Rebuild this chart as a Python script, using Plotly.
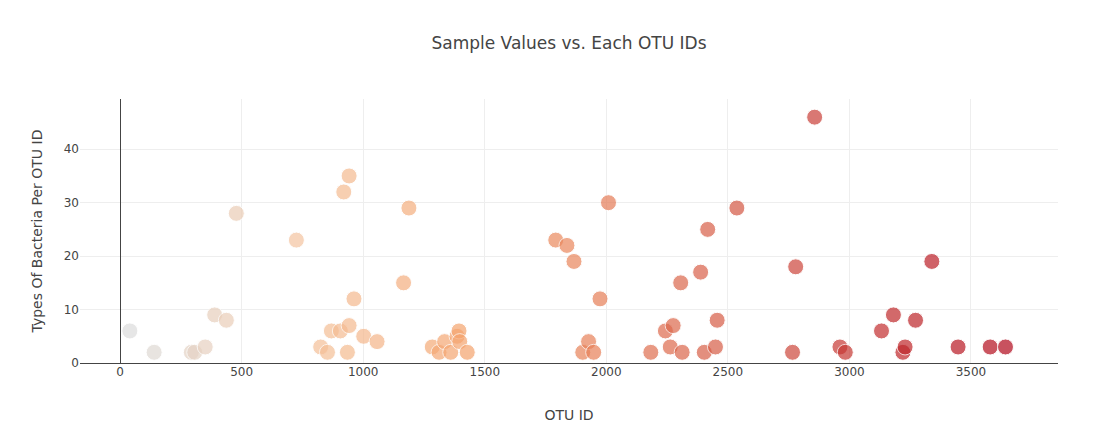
import plotly.graph_objects as go

# OTU IDs (x) and sample values (y)
otu_ids = [40, 140, 293, 307, 350, 389, 437, 478, 725, 825, 853, 869, 906, 920, 935,
           942, 942, 962, 1002, 1057, 1166, 1188, 1284, 1312, 1335, 1360, 1386, 1394,
           1397, 1428, 1792, 1838, 1867, 1903, 1927, 1948, 1974, 2009, 2183, 2243,
           2263, 2275, 2306, 2312, 2388, 2403, 2417, 2449, 2456, 2537, 2766, 2779,
           2857, 2961, 2983, 3132, 3181, 3220, 3229, 3272, 3339, 3447, 3579, 3642]
sample_values = [6, 2, 2, 2, 3, 9, 8, 28, 23, 3, 2, 6, 6, 32, 2,
                 35, 7, 12, 5, 4, 15, 29, 3, 2, 4, 2, 5, 6,
                 4, 2, 23, 22, 19, 2, 4, 2, 12, 30, 2, 6,
                 3, 7, 15, 2, 17, 2, 25, 3, 8, 29, 2, 18,
                 46, 3, 2, 6, 9, 2, 3, 8, 19, 3, 3, 3]

title_text = "Sample Values vs. Each OTU IDs"
x_title = "OTU ID"
y_title = "Types Of Bacteria Per OTU ID"

# plotly.js built-in "Reds" colorscale
reds = [[0, "rgb(220,220,220)"], [0.2, "rgb(245,195,157)"],
        [0.4, "rgb(245,160,105)"], [1, "rgb(178,10,28)"]]

fig = go.Figure(go.Scatter(
    x=otu_ids, y=sample_values, mode="markers",
    marker=dict(size=16, color=otu_ids, colorscale=reds, opacity=0.7,
                line=dict(color="white", width=1)),
    hovertemplate="%{x}, %{y}<extra></extra>",
))

fig.update_layout(
    template="none",
    width=1100, height=435,
    margin=dict(l=80, r=42, t=99, b=72),
    font=dict(family="Verdana, DejaVu Sans, sans-serif", size=12, color="#444"),
    title=dict(text=title_text, x=0.5, xref="paper", xanchor="center",
               y=0.901, yref="container", yanchor="middle",
               font=dict(size=17, color="#444")),
    plot_bgcolor="white", paper_bgcolor="white",
    showlegend=False,
    xaxis=dict(title=dict(text=x_title, standoff=32), range=[-165, 3858],
               tickvals=[0, 500, 1000, 1500, 2000, 2500, 3000, 3500],
               gridcolor="#eee", zeroline=True, zerolinecolor="#444", zerolinewidth=1,
               showline=False, ticks=""),
    yaxis=dict(title=dict(text=y_title), range=[0, 49.4], tickvals=[0, 10, 20, 30, 40],
               gridcolor="#eee", zeroline=True, zerolinecolor="#444", zerolinewidth=1,
               showline=False, ticks=""),
)

fig.write_html("out.html")
